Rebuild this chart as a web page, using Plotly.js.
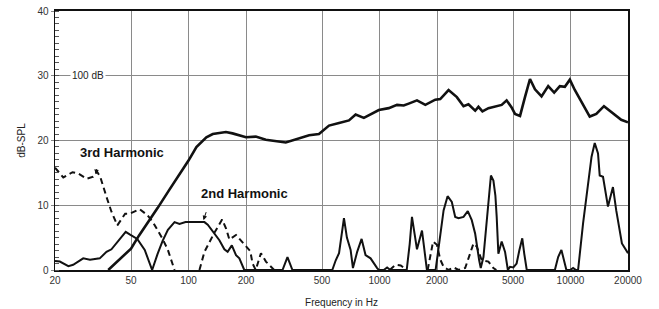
<!DOCTYPE html>
<html>
<head>
<meta charset="utf-8">
<script src="https://cdn.plot.ly/plotly-3.0.1.min.js"></script>
<style>html,body{margin:0;padding:0;background:#fff;}#chart{width:659px;height:309px;}</style>
</head>
<body>
<div id="chart"></div>
<script>
// Fundamental response
var fundF = [38,41,45,50,55,62,69,79,90,100,110,124,134,157,170,200,225,254,323,380,428,482,544,614,692,750,828,992,1118,1235,1339,1422,1571,1738,1959,2080,2299,2541,2753,2922,3169,3296,3459,3718,4362,4630,4917,5122,5441,5776,6136,6516,7052,7642,8214,8795,9341,9922,10530,12610,13650,14970,16350,18430,20000];
var fundDb = [0,0.9,2.0,3.3,5.3,7.5,9.6,12.3,14.8,16.9,19.0,20.5,21.0,21.3,21.1,20.5,20.6,20.1,19.7,20.3,20.8,21.0,22.3,22.7,23.1,24.0,23.5,24.7,25.0,25.5,25.4,25.7,26.2,25.5,26.3,26.4,27.8,26.7,25.3,25.6,24.6,25.2,24.5,25.0,25.5,26.2,25.1,24.1,23.8,26.7,29.5,27.9,26.8,28.4,27.4,28.4,28.3,29.4,27.8,23.7,24.1,25.3,24.4,23.2,22.8];

// 2nd harmonic
var h2F = [20,21.2,23.5,24.9,28.1,30.5,34.3,37.2,39.5,46.9,49.2,53.9,59.0,64.5,68.9,73.2,78.0,84.5,89.7,96.5,109.7,121.2,126.1,136.7,145.1,154.1,160.3,168.6,177.3,184.6,195.9,
  310.6,329.7,350.1,
  566,590,614,651.5,675,706,726,764,806,845,898,972,992,
  1053,1096,1139,
  1388,1439,1479,1528,1571,1669,1738,1771,
  1967,2063,2165,2272,2391,2491,2593,2753,2899,3041,3169,3325,3389,3501,3573,3718,3831,3948,4043,4107,4191,4362,4543,4699,4824,5020,5222,5394,5591,5727,5902,
  8282,8616,8962,9258,9517,
  9954,10318,10696,
  10957,11636,12357,12888,13393,13934,14220,14798,15710,16681,17356,18080,18586,20000];
var h2Db = [1.4,1.3,0.6,0.8,1.8,1.6,1.8,2.8,3.2,5.9,5.5,4.8,3.1,0,2.5,4.5,6.2,7.4,7.1,7.4,7.4,7.4,7.0,5.6,4.6,3.2,2.8,3.8,2.3,1.8,0,
  0,2.0,0,
  0,1.5,2.6,8.0,5.0,3.1,0.3,2.8,4.8,2.3,1.8,0.3,0,
  0,0.4,0,
  0,4.0,8.2,5.5,3.2,6.1,1.5,0,
  0,5.0,9.2,11.4,10.5,8.2,8.0,8.2,9.1,7.7,5.6,1.5,0.3,2.0,4.6,10.8,14.6,13.8,11.5,8.2,2.5,4.4,2.8,0,0.5,0.4,1.0,3.0,4.9,2.5,0,
  0,2.0,3.1,1.5,0,
  0,0.3,0,
  0,7.2,13.6,17.5,19.6,18.0,14.6,14.4,9.8,12.8,9.2,6.2,4.1,2.6];

// 3rd harmonic (segments separated by null)
var h3F = [20,22.1,24.7,26.5,29.3,31.7,33.2,34.5,37.2,39.5,42.4,46.6,49.2,55.5,60.8,65.1,73.5,78.0,84.5, null,
  114.1,121.2,135.1,149.9,157.3,163.7,177.3,195.9,210.6,216.5,225.0,239.4,254.3,280.9, null,
  1131,1212,1292,1388, null,
  1787,1851,1908,1998,2081,2165,2299,2442,2593,2809,2984,3106,3232,3430,3718,3948,4092];
var h3Db = [15.8,14.3,15.1,14.9,14.1,14.4,15.2,14.4,11.3,9.0,6.9,8.7,8.7,9.4,8.5,7.4,4.7,3.1,0, null,
  0,2.8,5.5,7.8,6.4,4.7,5.4,4.0,2.9,1.0,0,2.6,1.3,0, null,
  0,0.8,0.7,0, null,
  0,2.5,4.4,3.9,1.6,0.5,0,0.4,0,0.3,2.6,4.1,3.6,1.5,1.3,0.3,0];

var xTickVals = [20,50,100,200,500,1000,2000,5000,10000,20000];
var xTickText = ['20','50','100','200','500','1000','2000','5000','10000','20000'];
var yTickVals = [0,10,20,30,40];

var FONT = 'Arial, "Liberation Sans", sans-serif';

var traces = [
  {x: fundF, y: fundDb, type: 'scatter', mode: 'lines', line: {color: '#111', width: 2.6}, hoverinfo: 'skip'},
  {x: h2F, y: h2Db, type: 'scatter', mode: 'lines', line: {color: '#111', width: 2}, hoverinfo: 'skip'},
  {x: h3F, y: h3Db, type: 'scatter', mode: 'lines', connectgaps: false, line: {color: '#111', width: 2, dash: '6px,4px'}, hoverinfo: 'skip'}
];

var layout = {
  width: 659, height: 309,
  margin: {l: 55, r: 31, t: 11, b: 39},
  paper_bgcolor: '#fff', plot_bgcolor: '#fff',
  showlegend: false,
  font: {family: FONT, size: 10, color: '#333'},
  xaxis: {
    type: 'log', range: [Math.log10(20), Math.log10(20000)],
    tickvals: xTickVals, ticktext: xTickText,
    showgrid: true, gridcolor: '#8a8a8a', gridwidth: 1,
    showline: true, linecolor: '#111', linewidth: 2, mirror: true,
    ticks: '', zeroline: false,
    tickfont: {family: FONT, size: 10, color: '#333'},
    title: {text: 'Frequency in Hz', font: {family: FONT, size: 10, color: '#222'}, standoff: 14},
    automargin: false
  },
  yaxis: {
    range: [0, 40], tickvals: yTickVals,
    showgrid: true, gridcolor: '#8a8a8a', gridwidth: 1,
    showline: true, linecolor: '#111', linewidth: 1.5, mirror: true,
    ticks: 'outside', ticklen: 3, tickcolor: '#888',
    minor: {dtick: 1, ticks: 'inside', ticklen: 4, tickcolor: '#555', showgrid: false},
    zeroline: false,
    tickfont: {family: FONT, size: 10, color: '#333'},
    title: {text: 'dB-SPL', font: {family: FONT, size: 10, color: '#222'}, standoff: 10},
    automargin: false
  },
  annotations: [
    {xref: 'x', yref: 'y', x: 1.6531, y: 18.15, text: '<b>3rd Harmonic</b>', showarrow: false,
     font: {family: FONT, size: 13, color: '#111'}},
    {xref: 'x', yref: 'y', x: 1.5146, y: 14.8, text: ' ', showarrow: true, ax: 2, ay: -12,
     arrowhead: 2, arrowsize: 0.9, arrowwidth: 1, arrowcolor: '#111', standoff: 0},
    {xref: 'x', yref: 'y', x: 2.2948, y: 11.8, text: '<b>2nd Harmonic</b>', showarrow: false,
     font: {family: FONT, size: 13, color: '#111'}},
    {xref: 'x', yref: 'y', x: 2.0784, y: 7.7, text: ' ', showarrow: true, ax: 5, ay: -15,
     arrowhead: 2, arrowsize: 0.9, arrowwidth: 1, arrowcolor: '#111', standoff: 0},
    {xref: 'x', yref: 'y', x: 1.4716, y: 30, text: '100 dB', showarrow: false,
     bgcolor: '#fff', borderpad: 1,
     font: {family: FONT, size: 10, color: '#222'}}
  ]
};

Plotly.newPlot('chart', traces, layout, {staticPlot: true, displayModeBar: false});
</script>
</body>
</html>
